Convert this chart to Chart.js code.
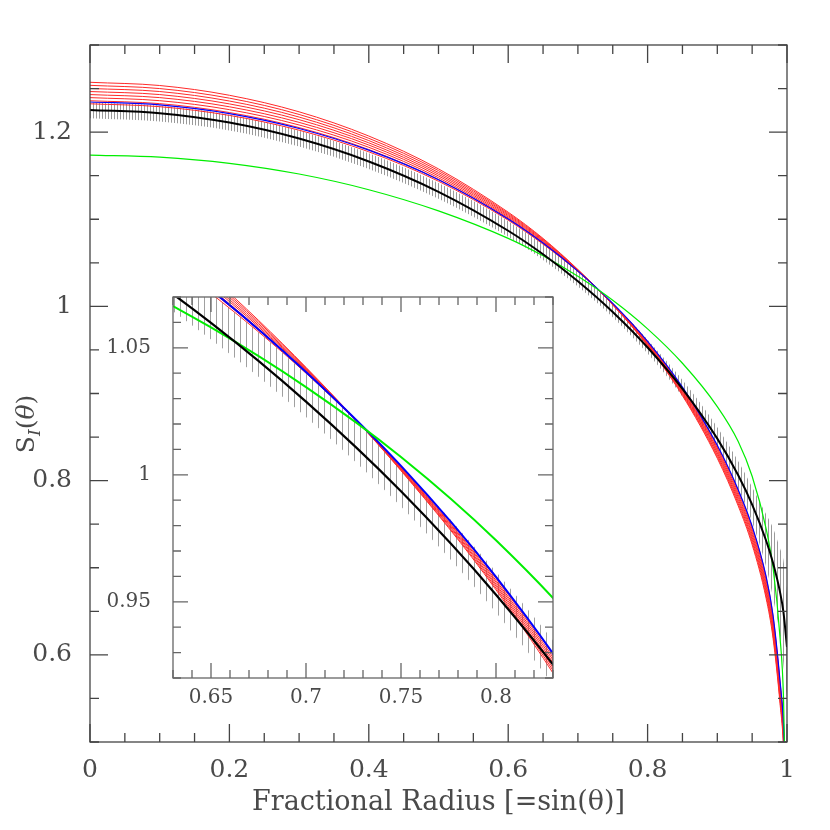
<!DOCTYPE html>
<html><head><meta charset="utf-8">
<script src="https://cdn.jsdelivr.net/npm/chart.js@4.4.1/dist/chart.umd.min.js"></script>
<style>
html,body{margin:0;padding:0;background:#fff;}
#wrap{position:relative;width:830px;height:830px;background:#fff;}
canvas{position:absolute;left:0;top:0;}
</style></head><body>
<div id="wrap"><canvas id="main" width="830" height="830"></canvas><canvas id="inset" width="830" height="830"></canvas></div>
<script>
// ---- data ----
const radius = [0, 0.1, 0.2, 0.3, 0.4, 0.5, 0.6, 0.65, 0.7, 0.75, 0.8, 0.85, 0.9, 0.93, 0.95, 0.97, 0.98, 0.99, 0.995, 1.0];
const blackS = [1.2254, 1.2218, 1.2110, 1.1926, 1.1663, 1.1315, 1.0868, 1.0598, 1.0288, 0.9935, 0.9528, 0.9054, 0.8482, 0.8061, 0.7725, 0.7313, 0.7054, 0.6720, 0.6485, 0.6090];
const errHigh = [1.2339, 1.2303, 1.2200, 1.2016, 1.1758, 1.1415, 1.0978, 1.0713, 1.0398, 1.0035, 0.9618, 0.9154, 0.8612, 0.8221, 0.7925, 0.7613, 0.7454, 0.7220, 0.7085, 0.6690];
const errLow  = [1.2159, 1.2123, 1.2020, 1.1836, 1.1578, 1.1235, 1.0798, 1.0533, 1.0228, 0.9875, 0.9458, 0.8964, 0.8362, 0.7911, 0.7525, 0.7013, 0.6654, 0.6220, 0.5885, 0.5490];
const blueS  = [1.2346, 1.2313, 1.2213, 1.2042, 1.1793, 1.1454, 1.1004, 1.0728, 1.0405, 1.0035, 0.9598, 0.9073, 0.8405, 0.7895, 0.7477, 0.6900, 0.6450, 0.5700, 0.5200, 0.4000];
const greenS = [1.1737, 1.1713, 1.1642, 1.1519, 1.1339, 1.1096, 1.0780, 1.0580, 1.0345, 1.0070, 0.9742, 0.9347, 0.8850, 0.8450, 0.8050, 0.7450, 0.7000, 0.6200, 0.5500, 0.3500];
const red1 = [1.2572, 1.2535, 1.2423, 1.2233, 1.1955, 1.1578, 1.1081, 1.0780, 1.0423, 1.0016, 0.9547, 0.8975, 0.8256, 0.7710, 0.7264, 0.6650, 0.6190, 0.5440, 0.4940, 0.3740];
const red2 = [1.2537, 1.2500, 1.2390, 1.2203, 1.1929, 1.1558, 1.1068, 1.0771, 1.0420, 1.0018, 0.9554, 0.8988, 0.8276, 0.7735, 0.7293, 0.6684, 0.6226, 0.5476, 0.4976, 0.3776];
const red3 = [1.2501, 1.2466, 1.2357, 1.2173, 1.1903, 1.1537, 1.1055, 1.0762, 1.0416, 1.0021, 0.9562, 0.9000, 0.8296, 0.7760, 0.7322, 0.6719, 0.6261, 0.5511, 0.5011, 0.3811];
const red4 = [1.2466, 1.2431, 1.2324, 1.2143, 1.1877, 1.1517, 1.1042, 1.0752, 1.0413, 1.0023, 0.9569, 0.9013, 0.8316, 0.7785, 0.7351, 0.6753, 0.6297, 0.5547, 0.5047, 0.3847];
const red5 = [1.2431, 1.2396, 1.2291, 1.2112, 1.1852, 1.1497, 1.1028, 1.0743, 1.0410, 1.0026, 0.9577, 0.9025, 0.8335, 0.7810, 0.7380, 0.6787, 0.6333, 0.5583, 0.5083, 0.3883];
const red6 = [1.2396, 1.2361, 1.2258, 1.2082, 1.1826, 1.1476, 1.1015, 1.0733, 1.0406, 1.0028, 0.9584, 0.9038, 0.8355, 0.7835, 0.7409, 0.6821, 0.6369, 0.5619, 0.5119, 0.3919];
const red7 = [1.2360, 1.2327, 1.2225, 1.2052, 1.1800, 1.1456, 1.1002, 1.0724, 1.0403, 1.0031, 0.9592, 0.9050, 0.8375, 0.7860, 0.7438, 0.6856, 0.6404, 0.5654, 0.5154, 0.3954];
const red8 = [1.2325, 1.2292, 1.2192, 1.2022, 1.1774, 1.1436, 1.0989, 1.0714, 1.0400, 1.0033, 0.9599, 0.9063, 0.8395, 0.7885, 0.7467, 0.6890, 0.6440, 0.5690, 0.5190, 0.3990];

const mainXTicks = [0,0.05,0.1,0.15,0.2,0.25,0.3,0.35,0.4,0.45,0.5,0.55,0.6,0.65,0.7,0.75,0.8,0.85,0.9,0.95,1];
const mainXLabels = [0, 0.2, 0.4, 0.6, 0.8, 1];
const mainYTicks = [0.5,0.55,0.6,0.65,0.7,0.75,0.8,0.85,0.9,0.95,1,1.05,1.1,1.15,1.2,1.25,1.3];
const mainYLabels = [0.6, 0.8, 1, 1.2];
const insetXTicks = [0.63,0.64,0.65,0.66,0.67,0.68,0.69,0.7,0.71,0.72,0.73,0.74,0.75,0.76,0.77,0.78,0.79,0.8,0.81,0.82,0.83];
const insetXLabels = [0.65, 0.7, 0.75, 0.8];
const insetYTicks = [0.92,0.93,0.94,0.95,0.96,0.97,0.98,0.99,1,1.01,1.02,1.03,1.04,1.05,1.06,1.07];
const insetYLabels = [0.95, 1, 1.05];

const xTitle = 'Fractional Radius [=sin(\u03b8)]';
const FONT = 'DejaVu Serif';
const TXT = '#4a4a4a';

// ---- helpers ----
const pts = arr => radius.map((r, i) => ({x: r, y: arr[i]}));
const isIn = (v, list) => list.some(m => Math.abs(m - v) < 1e-9);

function stripePattern(period, color) {
  const c = document.createElement('canvas');
  c.width = period; c.height = 4;
  const g = c.getContext('2d');
  g.fillStyle = color; g.fillRect(0, 0, 1, 4);
  return document.getElementById('main').getContext('2d').createPattern(c, 'repeat');
}

function framePlugin(o) {
  return {
    id: 'frame',
    beforeDatasetsDraw(chart) {
      if (!o.whiteBg) return;
      const a = chart.chartArea, ctx = chart.ctx;
      ctx.save(); ctx.fillStyle = '#fff';
      ctx.fillRect(a.left, a.top, a.right - a.left, a.bottom - a.top);
      ctx.restore();
    },
    afterDatasetsDraw(chart) {
      const {ctx, chartArea: a, scales: {x, y}} = chart;
      ctx.save();
      ctx.strokeStyle = o.color; ctx.lineWidth = o.lw;
      ctx.beginPath();
      o.xTicks.forEach(v => {
        const px = x.getPixelForValue(v);
        const L = isIn(v, o.xMajor) ? o.maj : o.min;
        ctx.moveTo(px, a.bottom); ctx.lineTo(px, a.bottom - L);
        ctx.moveTo(px, a.top); ctx.lineTo(px, a.top + L);
      });
      o.yTicks.forEach(v => {
        const py = y.getPixelForValue(v);
        const L = isIn(v, o.yMajor) ? o.maj : o.min;
        ctx.moveTo(a.left, py); ctx.lineTo(a.left + L, py);
        ctx.moveTo(a.right, py); ctx.lineTo(a.right - L, py);
      });
      ctx.stroke();
      ctx.strokeRect(a.left, a.top, a.right - a.left, a.bottom - a.top);
      ctx.restore();
    }
  };
}

const yTitlePlugin = {
  id: 'ytitle',
  afterDraw(chart) {
    const ctx = chart.ctx;
    ctx.save();
    ctx.translate(26, 424);
    ctx.rotate(-Math.PI / 2);
    ctx.fillStyle = TXT;
    ctx.textBaseline = 'alphabetic';
    const f1 = '25px "' + FONT + '"', f2 = 'italic 17px "' + FONT + '"', f3 = 'italic 25px "' + FONT + '"';
    const parts = [['S', f1, 0], ['I', f2, 6], ['(', f1, 0], ['\u03b8', f3, 0], [')', f1, 0]];
    let w = 0;
    parts.forEach(p => { ctx.font = p[1]; w += ctx.measureText(p[0]).width; });
    let xx = -w / 2;
    parts.forEach(p => { ctx.font = p[1]; ctx.fillText(p[0], xx, 8 + p[2]); xx += ctx.measureText(p[0]).width; });
    ctx.restore();
  }
};

function makeDatasets(inset) {
  const lw = inset ? {k: 2.2, b: 2, g: 2, r: 1} : {k: 2, b: 1.2, g: 1.2, r: 1};
  const reds = [red1, red2, red3, red4, red5, red6, red7, red8];
  const ds = [
    {label: 'model', data: pts(blackS), borderColor: '#000', borderWidth: lw.k},
    {label: 'green', data: pts(greenS), borderColor: '#00ee00', borderWidth: lw.g},
    {label: 'blue', data: pts(blueS), borderColor: '#0000ff', borderWidth: lw.b}
  ];
  reds.forEach((r, i) => ds.push({label: 'red' + (i + 1), data: pts(r), borderColor: '#ff2a2a', borderWidth: lw.r}));
  ds.push({label: 'errLow', data: pts(errLow), borderWidth: 0, borderColor: 'rgba(0,0,0,0)', fill: false});
  ds.push({label: 'errHigh', data: pts(errHigh), borderWidth: 0, borderColor: 'rgba(0,0,0,0)',
           fill: '-1', backgroundColor: inset ? stripePattern(6, '#a0a0a0') : stripePattern(3, '#9a9a9a')});
  ds.forEach(d => { d.pointRadius = 0; d.cubicInterpolationMode = 'monotone'; });
  return ds;
}

function makeScale(o) {
  return {
    type: 'linear', min: o.min, max: o.max,
    grid: {display: false, drawTicks: false}, border: {display: false},
    afterBuildTicks: s => { s.ticks = o.labels.map(v => ({value: v})); },
    afterFit: s => { if (o.w !== undefined) s.width = o.w; if (o.h !== undefined) s.height = o.h; },
    ticks: {color: TXT, font: {family: FONT, size: o.fs}, padding: o.pad, maxRotation: 0, autoSkip: false,
            callback: v => String(v)},
    title: o.title ? {display: true, text: o.title, color: TXT, font: {family: FONT, size: 27},
                      padding: {top: 0, bottom: 11}} : {display: false}
  };
}

Chart.defaults.font.family = FONT;

new Chart(document.getElementById('main'), {
  type: 'line',
  data: {datasets: makeDatasets(false)},
  options: {
    responsive: false, animation: false, devicePixelRatio: 1,
    layout: {padding: {left: 0, top: 45, right: 43, bottom: 0}},
    plugins: {legend: {display: false}, tooltip: {enabled: false}},
    scales: {
      x: makeScale({min: 0, max: 1, labels: mainXLabels, h: 88, fs: 25, pad: 13, title: xTitle}),
      y: makeScale({min: 0.5, max: 1.3, labels: mainYLabels, w: 90, fs: 25, pad: 18})
    }
  },
  plugins: [framePlugin({xTicks: mainXTicks, xMajor: mainXLabels, yTicks: mainYTicks, yMajor: mainYLabels,
                         maj: 18, min: 9, color: '#444', lw: 1.3}), yTitlePlugin]
});

new Chart(document.getElementById('inset'), {
  type: 'line',
  data: {datasets: makeDatasets(true)},
  options: {
    responsive: false, animation: false, devicePixelRatio: 1,
    layout: {padding: {left: 0, top: 297, right: 277, bottom: 0}},
    plugins: {legend: {display: false}, tooltip: {enabled: false}},
    scales: {
      x: makeScale({min: 0.63, max: 0.83, labels: insetXLabels, h: 152, fs: 20, pad: 8}),
      y: makeScale({min: 0.92, max: 1.07, labels: insetYLabels, w: 173, fs: 20, pad: 22})
    }
  },
  plugins: [framePlugin({xTicks: insetXTicks, xMajor: insetXLabels, yTicks: insetYTicks, yMajor: insetYLabels,
                         maj: 15, min: 8, color: '#666', lw: 1.3, whiteBg: true})]
});
</script>
</body></html>
